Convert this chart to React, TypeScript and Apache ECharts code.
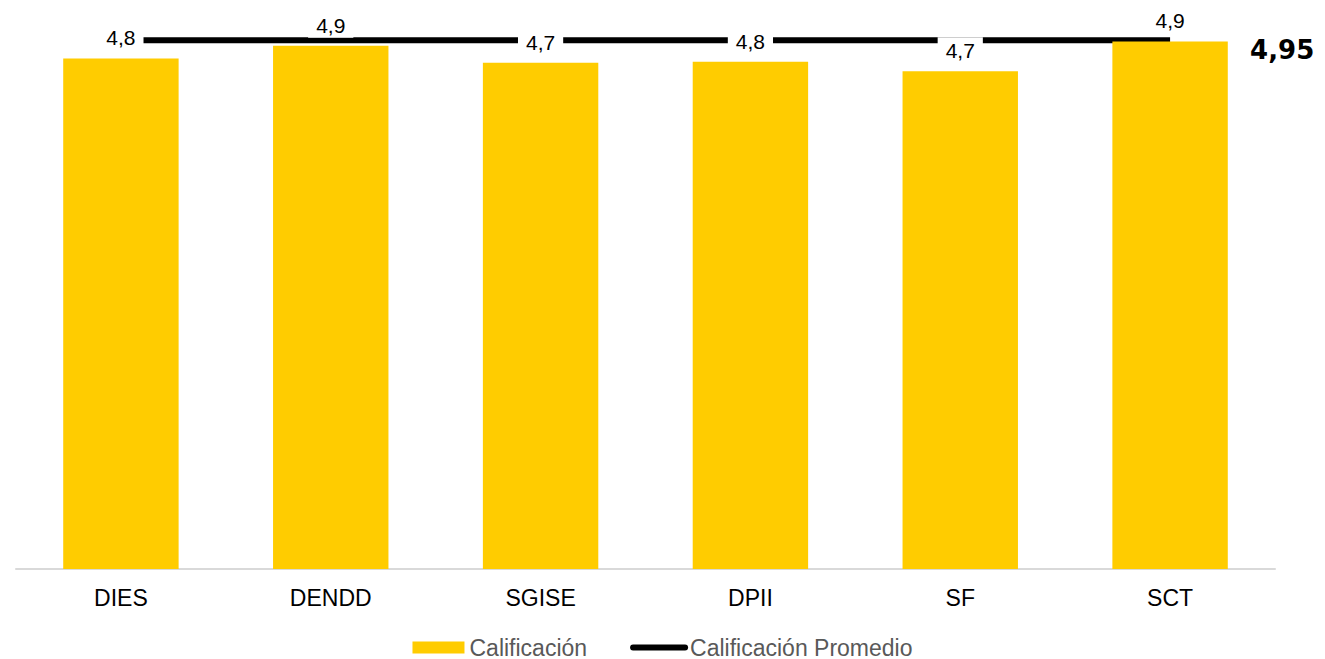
import React, { useEffect, useRef } from "react";
import * as echarts from "echarts";

const categories = ["DIES", "DENDD", "SGISE", "DPII", "SF", "SCT"];
const scoreValues = [4.78, 4.9, 4.74, 4.75, 4.66, 4.94];
const averageValues = [4.95, 4.95, 4.95, 4.95, 4.95, 4.95];
const seriesNames = ["Calificación", "Calificación Promedio"];

const fmt = (v: number, d: number) => v.toFixed(d).replace(".", ",");

export default function App() {
  const ref = useRef<HTMLDivElement>(null);
  useEffect(() => {
    if (!ref.current) return;
    document.body.style.margin = "0";
    document.body.style.overflow = "hidden";
    const chart = echarts.init(ref.current, undefined, { renderer: "svg" });
    chart.setOption({
      animation: false,
      textStyle: { fontFamily: "Liberation Sans, Arial, sans-serif" },
      grid: { left: 16, right: 50, top: 35, bottom: 90, containLabel: false },
      legend: {
        top: 636,
        left: "center",
        padding: 0,
        itemWidth: 52,
        itemHeight: 12,
        itemGap: 43,
        textStyle: { fontSize: 23, color: "#595959", fontFamily: "Liberation Sans, Arial, sans-serif" },
        data: [
          { name: seriesNames[0], icon: "rect" },
          {
            name: seriesNames[1],
            itemStyle: { opacity: 0 },
            lineStyle: { width: 6, cap: "round", color: "#000" },
          },
        ],
      },
      xAxis: {
        type: "category",
        data: categories,
        axisLine: { show: true, lineStyle: { color: "#d9d9d9", width: 2 } },
        axisTick: { show: false },
        axisLabel: { fontSize: 23, color: "#000", margin: 17 },
      },
      yAxis: {
        type: "value",
        min: 0,
        max: 5,
        show: false,
        splitLine: { show: false },
      },
      series: [
        {
          name: seriesNames[0],
          type: "bar",
          z: 3,
          data: scoreValues,
          barWidth: "55%",
          itemStyle: { color: "#FFCC00" },
          label: {
            show: true,
            position: "top",
            distance: 8,
            fontSize: 21,
            color: "#000",
            backgroundColor: "#fff",
            padding: [3, 8, 2, 8],
            formatter: (p: any) => fmt(p.value, 1),
          },
        },
        {
          name: seriesNames[1],
          type: "line",
          z: 2,
          data: averageValues,
          symbol: "none",
          lineStyle: { color: "#000", width: 6, cap: "butt" },
          itemStyle: { color: "#000" },
          endLabel: {
            show: true,
            distance: 80,
            offset: [0, 10],
            fontSize: 26,
            fontWeight: "bold",
            color: "#000",
            fontFamily: "DejaVu Sans, Verdana, sans-serif",
            formatter: (p: any) => fmt(p.value, 2),
          },
        },
      ],
    });
    return () => chart.dispose();
  }, []);
  return (
    <div
      ref={ref}
      style={{ position: "absolute", left: 0, top: 0, width: 1325, height: 659 }}
    />
  );
}
